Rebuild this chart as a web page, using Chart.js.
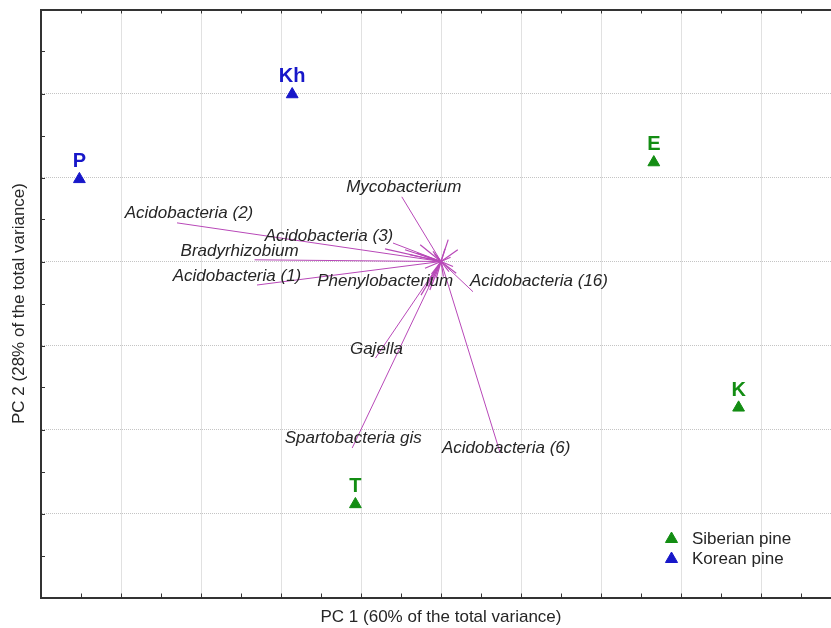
<!DOCTYPE html>
<html>
<head>
<meta charset="utf-8">
<title>PCA biplot</title>
<script src="https://cdn.jsdelivr.net/npm/chart.js@4.4.0/dist/chart.umd.min.js"></script>
<style>
  html, body { margin: 0; padding: 0; background: #fff; overflow: hidden; }
  #wrap { width: 880px; height: 628px; }
</style>
</head>
<body>
<div id="wrap"><canvas id="pca" width="880" height="628"></canvas></div>
<script>
// pcaBiplot - sample scores and taxa loadings on PC1 / PC2

// Sample scores
const siberianNames = ["E", "K", "T"];
const siberianPC1 = [2.66, 3.72, -1.07];
const siberianPC2 = [1.18, -1.74, -2.89];
const koreanNames = ["P", "Kh"];
const koreanPC1 = [-4.52, -1.86];
const koreanPC2 = [0.98, 1.99];

// Taxa loadings (arrow tips, arrows start at the origin)
const taxa = [
  "Acidobacteria (2)", "Acidobacteria (3)", "Bradyrhizobium", "Acidobacteria (1)",
  "Mycobacterium", "Phenylobacterium", "Acidobacteria (16)", "Gajella",
  "Spartobacteria gis", "Acidobacteria (6)",
];
const taxaPC1 = [-3.30, -0.60, -2.33, -2.30, -0.49, -0.16, 0.40, -0.82, -1.11, 0.74];
const taxaPC2 = [0.46, 0.22, 0.02, -0.28, 0.77, -0.24, -0.36, -1.15, -2.22, -2.28];

// Minor taxa without labels (the tangle around the origin)
const minorPC1 = [0.21, 0.19, -0.14, -0.25, -0.39, -0.45, -0.26, 0.09, -0.20, -0.70,
  0.12, 0.15, -0.10, -0.12, 0.05, -0.06, 0.10, -0.18, -0.30, -0.08, 0.03, -0.16];
const minorPC2 = [0.14, -0.14, -0.34, -0.40, 0.08, 0.14, 0.20, 0.26, -0.08, 0.15,
  0.05, -0.06, 0.12, -0.15, 0.15, -0.20, -0.12, 0.04, 0.10, 0.09, -0.18, -0.30];

// Axis ranges and tick steps
const xRange = [-5, 5];
const yRange = [-4, 3];
const minorStep = 0.5;

// Colours / fonts
const GREEN = "#138d13";
const BLUE = "#1717c9";
const ARROW = "#b848b8";
const INK = "#262626";
const FONT = 'Arial, "Liberation Sans", sans-serif';

// Pixel offsets of taxa labels relative to their arrow tips
const taxaLabelOffset = [
  [12, -10], [-64, -7], [-15, -9], [-20, -9], [2, -10],
  [-43, 0], [66, -10], [1, -9], [1, -10], [6, -5],
];

function arrowData(px, py) {
  return [{ x: 0, y: 0 }, { x: px, y: py }];
}

function points(xs, ys) {
  return xs.map((x, i) => ({ x: x, y: ys[i] }));
}

// Build datasets: arrows first so the sample markers sit on top
const datasets = [];
minorPC1.forEach((px, i) => {
  datasets.push({
    label: "minor " + i,
    data: arrowData(px, minorPC2[i]),
    showLine: true,
    borderColor: ARROW,
    borderWidth: 1.2,
    pointRadius: 0,
  });
});
taxa.forEach((name, i) => {
  datasets.push({
    label: name,
    data: arrowData(taxaPC1[i], taxaPC2[i]),
    showLine: true,
    borderColor: ARROW,
    borderWidth: 1,
    pointRadius: 0,
    taxonIndex: i,
  });
});
datasets.push({
  label: "Siberian pine",
  data: points(siberianPC1, siberianPC2),
  names: siberianNames,
  pointStyle: "triangle",
  pointRadius: 6.8,
  pointHoverRadius: 6.8,
  borderWidth: 1,
  backgroundColor: GREEN,
  borderColor: GREEN,
});
datasets.push({
  label: "Korean pine",
  data: points(koreanPC1, koreanPC2),
  names: koreanNames,
  pointStyle: "triangle",
  pointRadius: 6.8,
  pointHoverRadius: 6.8,
  borderWidth: 1,
  backgroundColor: BLUE,
  borderColor: BLUE,
});

function drawTriangle(ctx, x, y, r, color) {
  ctx.beginPath();
  let rad = 0;
  for (let k = 0; k < 3; k++) {
    const px = x + Math.sin(rad) * r;
    const py = y - Math.cos(rad) * r;
    if (k === 0) ctx.moveTo(px, py);
    else ctx.lineTo(px, py);
    rad += (2 * Math.PI) / 3;
  }
  ctx.closePath();
  ctx.fillStyle = color;
  ctx.strokeStyle = color;
  ctx.lineWidth = 1;
  ctx.fill();
  ctx.stroke();
}

// Inward tick marks and the top frame line
const framePlugin = {
  id: "frame",
  beforeDatasetsDraw(chart) {
    const { ctx, chartArea: a, scales } = chart;
    const xs = scales.x, ys = scales.y;
    ctx.save();
    ctx.strokeStyle = "#333";
    ctx.lineWidth = 1;
    ctx.beginPath();
    for (let v = xRange[0]; v <= xRange[1] + 1e-9; v += minorStep) {
      const px = Math.round(xs.getPixelForValue(v)) + 0.5;
      ctx.moveTo(px, a.top);
      ctx.lineTo(px, a.top + 4);
      ctx.moveTo(px, a.bottom);
      ctx.lineTo(px, a.bottom - 4);
    }
    for (let v = yRange[0]; v <= yRange[1] + 1e-9; v += minorStep) {
      const py = Math.round(ys.getPixelForValue(v)) + 0.5;
      ctx.moveTo(a.left, py);
      ctx.lineTo(a.left + 4, py);
    }
    ctx.stroke();
    ctx.lineWidth = 2;
    ctx.beginPath();
    ctx.moveTo(a.left, Math.round(a.top));
    ctx.lineTo(a.right, Math.round(a.top));
    ctx.stroke();
    ctx.restore();
  },
};

// Text labels for arrows and samples, plus the legend box
const labelPlugin = {
  id: "labels",
  afterDatasetsDraw(chart) {
    const { ctx } = chart;
    ctx.save();
    chart.data.datasets.forEach((ds, di) => {
      const meta = chart.getDatasetMeta(di);
      if (ds.taxonIndex !== undefined) {
        const tip = meta.data[1];
        const off = taxaLabelOffset[ds.taxonIndex];
        ctx.font = "italic 17px " + FONT;
        ctx.fillStyle = INK;
        ctx.textAlign = "center";
        ctx.textBaseline = "middle";
        ctx.fillText(ds.label, tip.x + off[0], tip.y + off[1]);
      }
      if (ds.names) {
        ctx.font = "bold 20px " + FONT;
        ctx.fillStyle = ds.borderColor;
        ctx.textAlign = "center";
        ctx.textBaseline = "alphabetic";
        meta.data.forEach((el, i) => {
          ctx.fillText(ds.names[i], el.x, el.y - 12);
        });
      }
    });

    // legend
    const legend = [["Siberian pine", GREEN], ["Korean pine", BLUE]];
    legend.forEach((item, i) => {
      const ly = 539 + i * 20;
      drawTriangle(ctx, 671.5, ly, 7, item[1]);
      ctx.font = "17px " + FONT;
      ctx.fillStyle = INK;
      ctx.textAlign = "left";
      ctx.textBaseline = "middle";
      ctx.fillText(item[0], 692, ly);
    });
    ctx.restore();
  },
};

function gridColor(c) {
  const v = c.tick ? c.tick.value : 0;
  return Math.abs(v - Math.round(v)) < 1e-6 ? "#c4c4c4" : "rgba(0,0,0,0)";
}

const ctx = document.getElementById("pca").getContext("2d");
new Chart(ctx, {
  type: "scatter",
  data: { datasets: datasets },
  options: {
    responsive: false,
    animation: false,
    devicePixelRatio: 1,
    events: [],
    layout: { padding: { top: 9.5, right: 39, bottom: 0, left: 0 } },
    plugins: {
      legend: { display: false },
      tooltip: { enabled: false },
    },
    scales: {
      x: {
        type: "linear",
        min: xRange[0],
        max: xRange[1],
        ticks: { display: false, stepSize: minorStep },
        grid: { color: gridColor, drawTicks: false, lineWidth: 1 },
        border: { display: true, color: "#333", width: 2, dash: [1, 1] },
        title: {
          display: true,
          text: "PC 1 (60% of the total variance)",
          color: INK,
          font: { family: FONT, size: 17 },
          padding: { top: 0, bottom: 0 },
        },
        afterFit(s) { s.height = 30.5; },
      },
      y: {
        type: "linear",
        min: yRange[0],
        max: yRange[1],
        ticks: { display: false, stepSize: minorStep },
        grid: { color: gridColor, drawTicks: false, lineWidth: 1 },
        border: { display: true, color: "#333", width: 2, dash: [1, 1] },
        title: {
          display: true,
          text: "PC 2 (28% of the total variance)",
          color: INK,
          font: { family: FONT, size: 17 },
          padding: { top: 9.3, bottom: 0 },
        },
        afterFit(s) { s.width = 41; },
      },
    },
  },
  plugins: [framePlugin, labelPlugin],
});
</script>
</body>
</html>
